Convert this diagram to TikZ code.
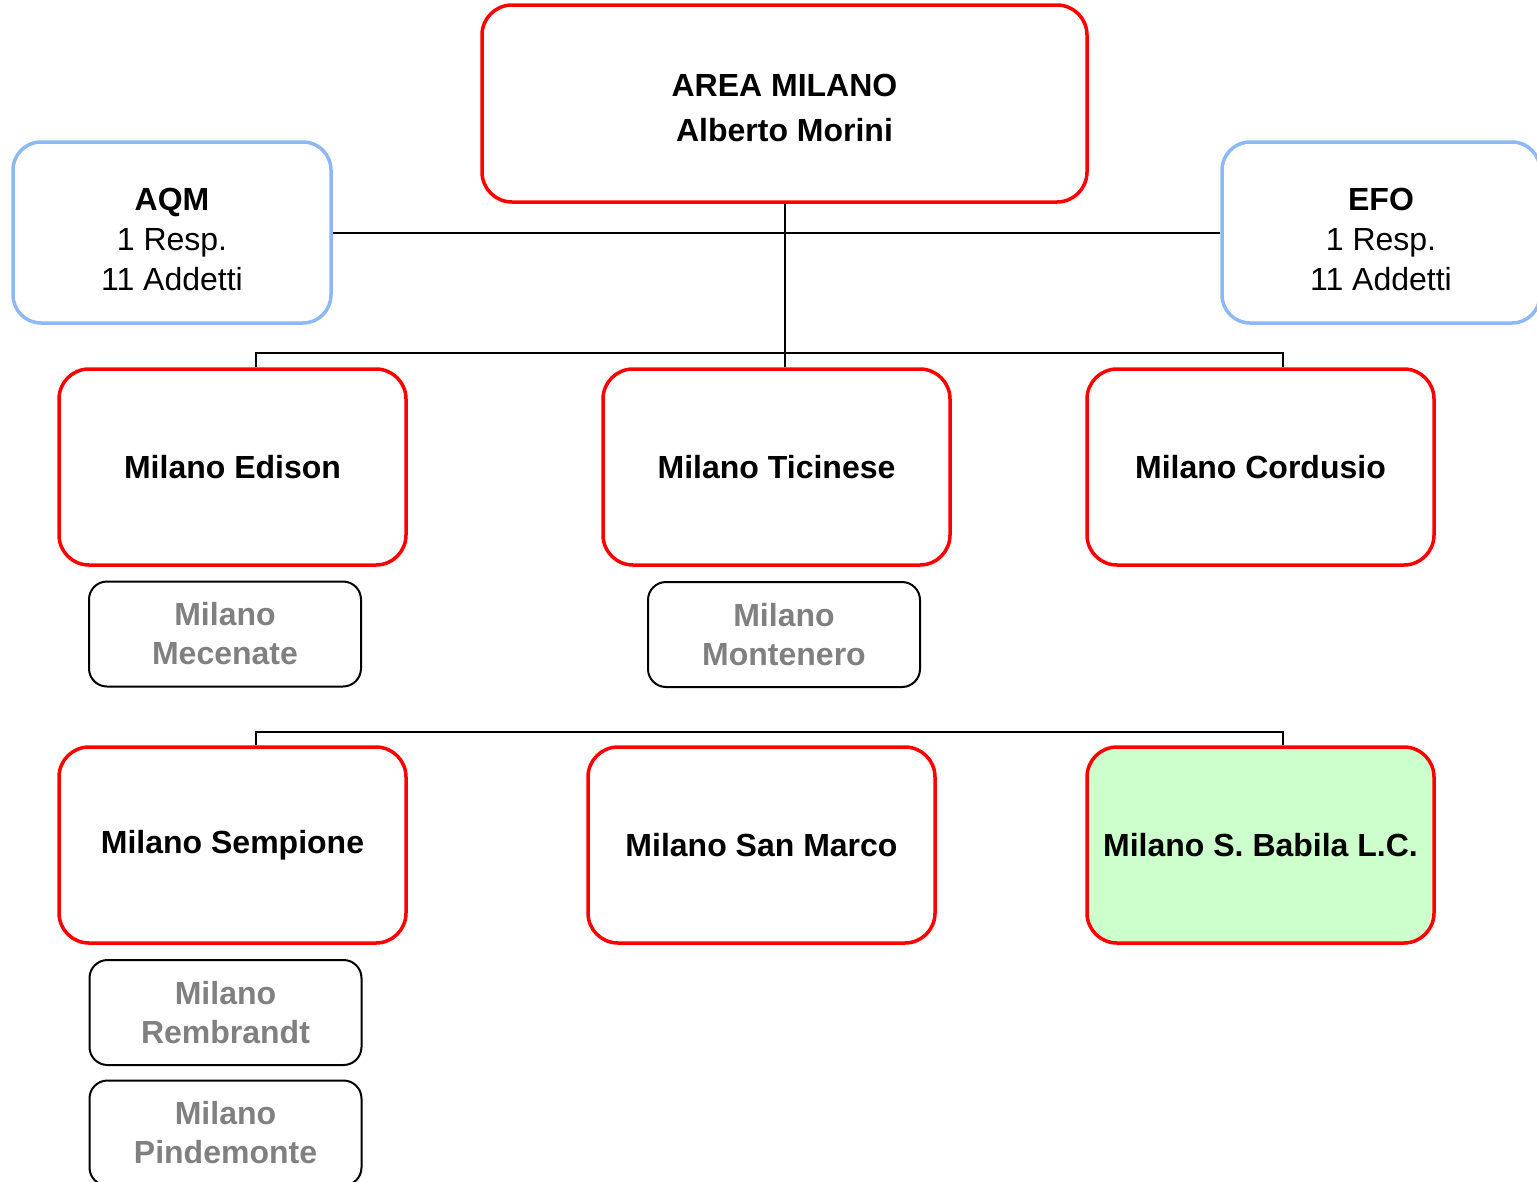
\documentclass[tikz,border=0pt]{standalone}
\usepackage{fontspec}
\setmainfont{Liberation Sans}
\definecolor{boxred}{RGB}{255,0,0}
\definecolor{boxblue}{RGB}{140,185,245}
\definecolor{boxgreen}{RGB}{204,255,204}
\definecolor{subgray}{RGB}{128,128,128}
\begin{document}
\begin{tikzpicture}[x=1pt,y=-1pt,
  every node/.style={inner sep=0pt,align=center},
  every label/.style={inner sep=0pt,align=center},
  unit/.style={draw=boxred,line width=3.5pt,rounded corners=30pt,
    minimum width=347pt,minimum height=196pt,
    font=\fontsize{32}{40}\selectfont\bfseries},
  staff/.style={draw=boxblue,line width=3.5pt,rounded corners=28pt,
    minimum width=318pt,minimum height=181pt},
  stafftext/.style={yshift=-7pt,font=\fontsize{32}{40}\selectfont},
  branch/.style={draw=black,line width=2pt,rounded corners=18pt,
    minimum width=272pt,minimum height=105pt,text=subgray,
    font=\fontsize{32}{39}\selectfont\bfseries},
  link/.style={draw=black,line width=2pt}]
\useasboundingbox (0,0) rectangle (1537,1181);
\clip (0,0) rectangle (1537,1181);

% head of the area
\node[unit,minimum width=605pt,minimum height=197pt,
  label={[yshift=-4pt,font=\fontsize{32}{45}\selectfont\bfseries]center:AREA MILANO\\Alberto Morini}]
  (area) at (784.5,103.5) {};

% staff units
\node[staff,label={[stafftext]center:\textbf{AQM}\\1 Resp.\\11 Addetti}]
  (aqm) at (172,232.5) {};
\node[staff,label={[stafftext]center:\textbf{EFO}\\1 Resp.\\11 Addetti}]
  (efo) at (1381,232.5) {};

% first row of branches
\node[unit] (edison) at (232.5,467) {Milano Edison};
\node[unit] (ticinese) at (776.5,467) {Milano Ticinese};
\node[unit] (cordusio) at (1260.5,467) {Milano Cordusio};

\node[branch] (mecenate) at (225,634) {Milano\\Mecenate};
\node[branch] (montenero) at (784,634.5) {Milano\\Montenero};

% second row of branches
\node[unit] (sempione) at (232.5,845) {Milano Sempione};
\node[unit] (sanmarco) at (761.5,845) {Milano San Marco};
\node[unit,fill=boxgreen] (babila) at (1260.5,845) {Milano S. Babila L.C.};

\node[branch] (rembrandt) at (225.5,1012.5) {Milano\\Rembrandt};
\node[branch] (pindemonte) at (225.5,1133) {Milano\\Pindemonte};

% connectors
\coordinate (busL) at (256,353);
\coordinate (busR) at (1283,353);
\coordinate (bus2L) at (256,732);
\coordinate (bus2R) at (1283,732);

\draw[link] (aqm.east) -- (efo.west);
\draw[link] (area.south) -- (area.south |- ticinese.north);
\draw[link] (busL |- edison.north) -- (busL) -- (busR) -- (busR |- cordusio.north);
\draw[link] (bus2L |- sempione.north) -- (bus2L) -- (bus2R) -- (bus2R |- babila.north);
\end{tikzpicture}
\end{document}
